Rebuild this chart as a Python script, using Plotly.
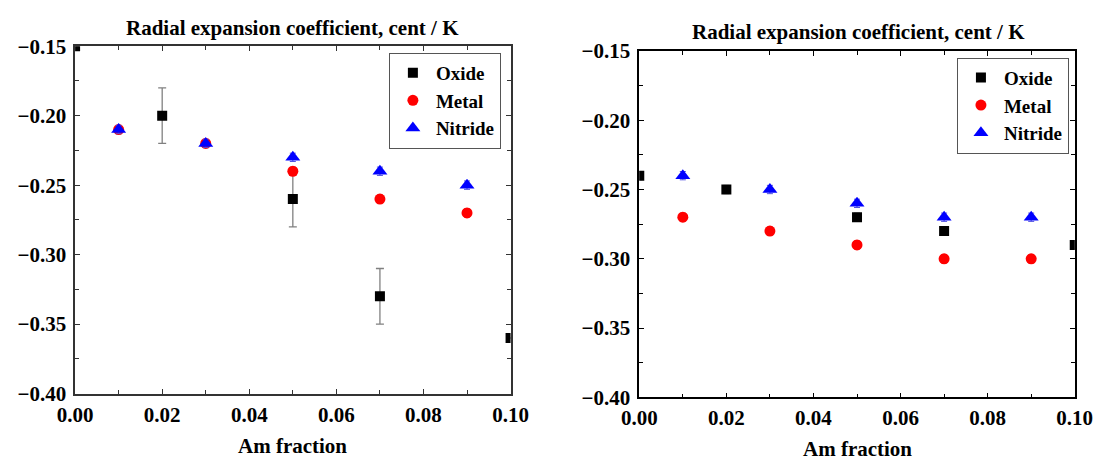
import plotly.graph_objects as go

# ---- data ----
left_oxide_x = [0.0, 0.02, 0.05, 0.07, 0.10]
left_oxide_y = [-0.15, -0.20, -0.26, -0.33, -0.36]
left_oxide_err = [0.0, 0.02, 0.02, 0.02, 0.0]
left_metal_x = [0.01, 0.03, 0.05, 0.07, 0.09]
left_metal_y = [-0.21, -0.22, -0.24, -0.26, -0.27]
left_metal_err = [0.003, 0.003, 0.003, 0.003, 0.003]
left_nitride_x = [0.01, 0.03, 0.05, 0.07, 0.09]
left_nitride_y = [-0.21, -0.22, -0.23, -0.24, -0.25]
left_nitride_err = [0.003, 0.003, 0.003, 0.003, 0.003]

right_oxide_x = [0.0, 0.02, 0.05, 0.07, 0.10]
right_oxide_y = [-0.24, -0.25, -0.27, -0.28, -0.29]
right_oxide_err = [0.003, 0.003, 0.003, 0.003, 0.003]
right_metal_x = [0.01, 0.03, 0.05, 0.07, 0.09]
right_metal_y = [-0.27, -0.28, -0.29, -0.30, -0.30]
right_metal_err = [0.003, 0.003, 0.003, 0.003, 0.003]
right_nitride_x = [0.01, 0.03, 0.05, 0.07, 0.09]
right_nitride_y = [-0.24, -0.25, -0.26, -0.27, -0.27]
right_nitride_err = [0.003, 0.003, 0.003, 0.003, 0.003]

title_text = "Radial expansion coefficient, cent / K"
xlabel = "Am fraction"
series_names = ["Oxide", "Metal", "Nitride"]

FONT = "Liberation Serif"

fig = go.Figure()

def add(x, y, err, name, symbol, color, ecolor, size, xa, ya, legend, ethick=1, ewidth=3):
    fig.add_trace(go.Scatter(
        x=x, y=y, mode="markers", name=name,
        marker=dict(symbol=symbol, color=color, size=size, line=dict(width=0)),
        error_y=dict(type="data", array=err, visible=True, color=ecolor,
                     thickness=ethick, width=ewidth),
        xaxis=xa, yaxis=ya, legend=legend, cliponaxis=True,
    ))

add(left_oxide_x, left_oxide_y, left_oxide_err, series_names[0], "square", "black", "#808080", 10, "x", "y", "legend", 1.3, 4)
add(left_metal_x, left_metal_y, left_metal_err, series_names[1], "circle", "red", "#e05050", 11, "x", "y", "legend")
add(left_nitride_x, left_nitride_y, left_nitride_err, series_names[2], "triangle-up", "blue", "#5050e0", 13, "x", "y", "legend")

add(right_oxide_x, right_oxide_y, right_oxide_err, series_names[0], "square", "black", "#808080", 10, "x2", "y2", "legend2")
add(right_metal_x, right_metal_y, right_metal_err, series_names[1], "circle", "red", "#e05050", 11, "x2", "y2", "legend2")
add(right_nitride_x, right_nitride_y, right_nitride_err, series_names[2], "triangle-up", "blue", "#5050e0", 13, "x2", "y2", "legend2")

tickfont = dict(family=FONT, size=21, color="black", weight="bold")

def xaxis(domain, anchor, lc):
    return dict(domain=domain, anchor=anchor, range=[0, 0.1], dtick=0.02, tick0=0,
                tickformat=".2f", ticks="inside", ticklen=5, tickcolor=lc,
                showline=True, linecolor=lc, linewidth=1.5, mirror="allticks",
                showgrid=False, zeroline=False, tickfont=tickfont,
                minor=dict(dtick=0.01, ticks="inside", ticklen=4, tickcolor=lc),
                ticklabelstandoff=1)

def yaxis(domain, anchor, lc):
    return dict(domain=domain, anchor=anchor, range=[-0.40, -0.15], dtick=0.05, tick0=0,
                tickformat=".2f", ticks="inside", ticklen=5, tickcolor=lc,
                showline=True, linecolor=lc, linewidth=1.5, mirror="allticks",
                showgrid=False, zeroline=False, tickfont=tickfont,
                minor=dict(dtick=0.025, ticks="inside", ticklen=4, tickcolor=lc),
                ticklabelstandoff=3)

legend_font = dict(family=FONT, size=19, color="black", weight="bold")

fig.update_layout(
    width=1115, height=473,
    margin=dict(l=0, r=0, t=0, b=0),
    paper_bgcolor="white", plot_bgcolor="white",
    font=dict(family=FONT),
    xaxis=xaxis([59/1115, 509/1115], "y", "#333333"),
    yaxis=yaxis([1-402/473, 1-36/473], "x", "#333333"),
    xaxis2=xaxis([642/1115, 1092/1115], "y2", "black"),
    yaxis2=yaxis([1-406/473, 1-41/473], "x2", "black"),
    legend=dict(x=499/1115, y=1-43/473, xanchor="right", yanchor="top",
                bordercolor="#555555", borderwidth=1, bgcolor="white",
                font=legend_font, itemwidth=36, tracegroupgap=0),
    legend2=dict(x=1086/1115, y=1-48/473, xanchor="right", yanchor="top",
                 bordercolor="#555555", borderwidth=1, bgcolor="white",
                 font=legend_font, itemwidth=36, tracegroupgap=0),
    showlegend=True,
)

title_font = dict(family=FONT, size=21, color="black", weight="bold")
fig.add_annotation(text=title_text, x=284/1115, y=1-17/473, xref="paper", yref="paper",
                   showarrow=False, font=title_font, xanchor="center", yanchor="middle")
fig.add_annotation(text=title_text, x=869/1115, y=1-21/473, xref="paper", yref="paper",
                   showarrow=False, font=title_font, xanchor="center", yanchor="middle")
axis_title_font = dict(family=FONT, size=21, color="black", weight="bold")
fig.add_annotation(text=xlabel, x=284/1115, y=1-457/473, xref="paper", yref="paper",
                   showarrow=False, font=axis_title_font, xanchor="center", yanchor="middle")
fig.add_annotation(text=xlabel, x=867/1115, y=1-460/473, xref="paper", yref="paper",
                   showarrow=False, font=axis_title_font, xanchor="center", yanchor="middle")

fig.write_html("out.html")
